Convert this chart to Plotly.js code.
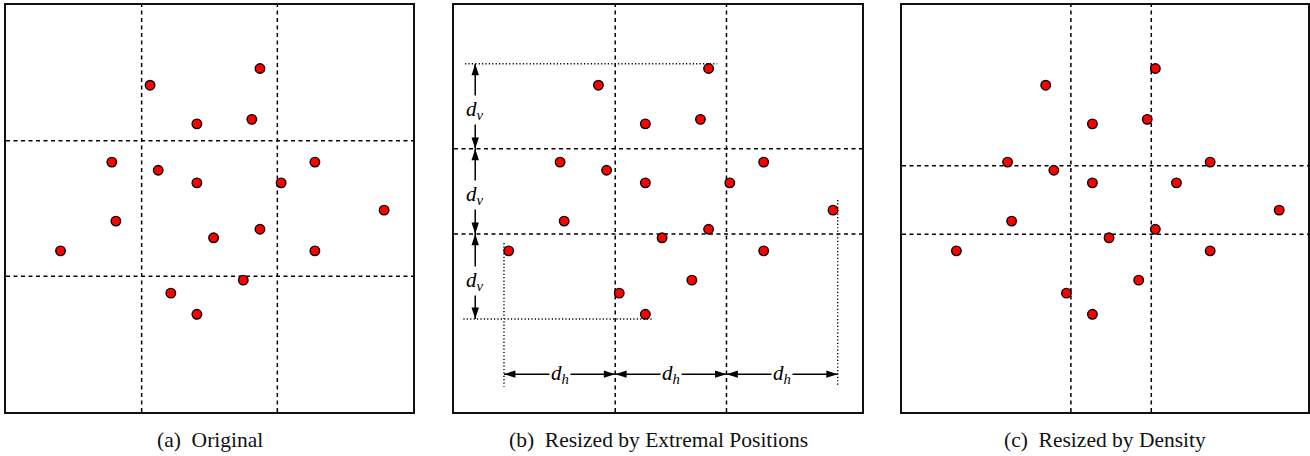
<!DOCTYPE html>
<html>
<head>
<meta charset="utf-8">
<script src="https://cdn.plot.ly/plotly-3.0.1.min.js"></script>
<style>
html,body{margin:0;padding:0;background:#fff;}
#chart{width:1310px;height:456px;}
</style>
</head>
<body>
<div id="chart"></div>
<script>
// ---- data (panel coordinates 0..100, y upward) ----
const pointX = [62.4, 35.4, 46.9, 60.4, 26.0, 37.4, 46.9, 67.6, 75.9, 92.9, 27.0, 13.4, 51.0, 62.4, 75.9, 58.3, 40.5, 46.9];
const pointY = [84.4, 80.3, 70.8, 71.9, 61.4, 59.4, 56.3, 56.3, 61.4, 49.6, 46.9, 39.6, 42.8, 44.9, 39.6, 32.4, 29.2, 24.0];
const captions = ["(a)\u00a0 Original", "(b)\u00a0 Resized by Extremal Positions", "(c)\u00a0 Resized by Density"];
const labelV = "<i>d<sub>v</sub></i>";
const labelH = "<i>d<sub>h</sub></i>";
const gridA_x = [33.33, 66.67];
const gridA_y = [33.33, 66.67];
const gridC_x = [41.6, 61.4];
const gridC_y = [43.7, 60.5];

// ---- geometry ----
const W = 1310, H = 456;
const panelsPx = [[6, 413], [454, 862], [902, 1308]];
const topPx = 5, botPx = 412;
const yDom = [1 - botPx / H, 1 - topPx / H];
const serif = 'Liberation Serif, Times New Roman, serif';

const pad = 1.15; // marker radius in data units
const xMinE = Math.min(...pointX) - pad, xMaxE = Math.max(...pointX) + pad;
const yMinE = Math.min(...pointY) - pad, yMaxE = Math.max(...pointY) + pad;
const dh = (xMaxE - xMinE) / 3, dv = (yMaxE - yMinE) / 3;
const gridB_x = [xMinE + dh, xMinE + 2 * dh];
const gridB_y = [yMinE + dv, yMinE + 2 * dv];

const traces = [];
const layout = {
  width: W, height: H,
  margin: {l: 0, r: 0, t: 0, b: 0},
  paper_bgcolor: '#fff', plot_bgcolor: '#fff',
  showlegend: false,
  shapes: [], annotations: []
};

const axisCommon = {
  range: [0, 100], showgrid: false, zeroline: false, showticklabels: false,
  ticks: '', showline: true, mirror: true, linecolor: '#111', linewidth: 1.8,
  fixedrange: true
};

const grids = [[gridA_x, gridA_y], [gridB_x, gridB_y], [gridC_x, gridC_y]];
const dashStyle = {color: '#000', width: 1.5, dash: '4px,3.5px'};
const dotStyle = {color: '#000', width: 1.4, dash: '1.2px,2.2px'};

const iTop = pointY.indexOf(Math.max(...pointY));
const iBot = pointY.indexOf(Math.min(...pointY));
const iLeft = pointX.indexOf(Math.min(...pointX));
const iRight = pointX.indexOf(Math.max(...pointX));
const arrowX = 5.2, arrowY = 9.3;
const yStops = [yMaxE, gridB_y[1], gridB_y[0], yMinE];
const xStops = [xMinE, gridB_x[0], gridB_x[1], xMaxE];

for (let i = 0; i < 3; i++) {
  const sfx = i === 0 ? '' : String(i + 1);
  const xr = 'x' + sfx, yr = 'y' + sfx;
  layout['xaxis' + sfx] = Object.assign({}, axisCommon, {
    domain: [panelsPx[i][0] / W, panelsPx[i][1] / W], anchor: yr
  });
  layout['yaxis' + sfx] = Object.assign({}, axisCommon, {domain: yDom, anchor: xr});

  grids[i][0].forEach(g => layout.shapes.push({type: 'line', xref: xr, yref: yr, x0: g, x1: g, y0: 0, y1: 100, line: dashStyle, layer: 'below'}));
  grids[i][1].forEach(g => layout.shapes.push({type: 'line', xref: xr, yref: yr, x0: 0, x1: 100, y0: g, y1: g, line: dashStyle, layer: 'below'}));

  layout.annotations.push({
    xref: 'paper', yref: 'paper',
    x: (panelsPx[i][0] + panelsPx[i][1]) / 2 / W, y: 1 - 440 / H,
    xanchor: 'center', yanchor: 'middle', showarrow: false,
    text: captions[i],
    font: {family: serif, size: 21.5, color: '#111'}
  });
}

// dotted extremal guides
layout.shapes.push({type: 'line', xref: 'x2', yref: 'y2', x0: 2.7, x1: pointX[iTop] + 2.1, y0: yMaxE, y1: yMaxE, line: dotStyle, layer: 'below'});
layout.shapes.push({type: 'line', xref: 'x2', yref: 'y2', x0: 2.3, x1: pointX[iBot] + 2.1, y0: yMinE, y1: yMinE, line: dotStyle, layer: 'below'});
layout.shapes.push({type: 'line', xref: 'x2', yref: 'y2', x0: xMinE, x1: xMinE, y0: pointY[iLeft] + 1.9, y1: 6.2, line: dotStyle, layer: 'below'});
layout.shapes.push({type: 'line', xref: 'x2', yref: 'y2', x0: xMaxE, x1: xMaxE, y0: pointY[iRight] + 2.5, y1: 6.6, line: dotStyle, layer: 'below'});

// arrow shafts
for (let k = 0; k < 3; k++) {
  traces.push({type: 'scatter', mode: 'lines', xaxis: 'x2', yaxis: 'y2',
    x: [arrowX, arrowX], y: [yStops[k], yStops[k + 1]],
    line: {color: '#000', width: 1.5}, hoverinfo: 'skip'});
  traces.push({type: 'scatter', mode: 'lines', xaxis: 'x2', yaxis: 'y2',
    x: [xStops[k], xStops[k + 1]], y: [arrowY, arrowY],
    line: {color: '#000', width: 1.5}, hoverinfo: 'skip'});
}
// arrow heads
const hx = [], hy = [], ha = [];
for (let k = 0; k < 3; k++) {
  hx.push(arrowX, arrowX); hy.push(yStops[k], yStops[k + 1]); ha.push(0, 180);
  hx.push(xStops[k], xStops[k + 1]); hy.push(arrowY, arrowY); ha.push(270, 90);
}
traces.push({type: 'scatter', mode: 'markers', xaxis: 'x2', yaxis: 'y2',
  x: hx, y: hy,
  marker: {symbol: 'arrow', size: 12, angle: ha, color: '#000', line: {width: 0}},
  hoverinfo: 'skip'});

// points
for (let i = 0; i < 3; i++) {
  const sfx = i === 0 ? '' : String(i + 1);
  traces.push({
    type: 'scatter', mode: 'markers', x: pointX, y: pointY, xaxis: 'x' + sfx, yaxis: 'y' + sfx,
    marker: {size: 9.5, color: '#ff0000', line: {color: '#000', width: 1.4}},
    hoverinfo: 'skip'
  });
}

// labels
function label(x, y, txt) {
  return {
    xref: 'x2', yref: 'y2', x: x, y: y, text: txt, showarrow: false,
    bgcolor: '#fff', borderpad: 1, xanchor: 'center', yanchor: 'middle',
    font: {family: serif, size: 21, color: '#000'}
  };
}
for (let k = 0; k < 3; k++) {
  layout.annotations.push(label(arrowX, (yStops[k] + yStops[k + 1]) / 2 - 1, labelV));
  layout.annotations.push(label((xStops[k] + xStops[k + 1]) / 2, arrowY, labelH));
}

Plotly.newPlot('chart', traces, layout, {staticPlot: true, displayModeBar: false});
</script>
</body>
</html>
